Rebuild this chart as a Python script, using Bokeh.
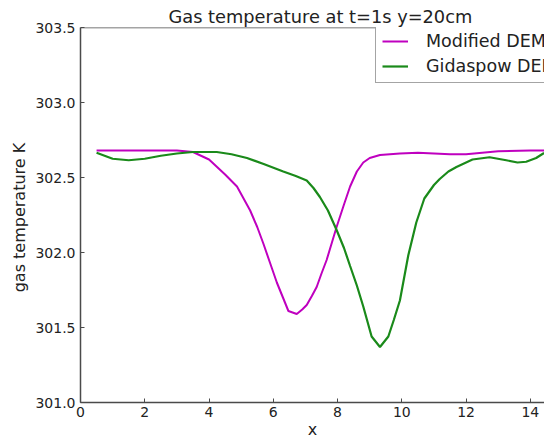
from bokeh.plotting import figure
from bokeh.models import Range1d, FixedTicker, PrintfTickFormatter, Legend, LegendItem, Span
from bokeh.embed import file_html
from bokeh.resources import INLINE

# ---- data ----
mod_x = [0.5, 1.0, 2.0, 3.0, 3.5, 4.0, 4.25, 4.5, 4.87, 5.28, 5.5, 5.69, 5.9, 6.11, 6.3,
         6.47, 6.73, 6.9, 7.04, 7.2, 7.35, 7.5, 7.66, 7.97, 8.2, 8.39, 8.6, 8.8, 9.0,
         9.32, 9.94, 10.5, 11.0, 11.5, 12.0, 12.5, 13.0, 14.0, 15.0]
mod_t = [302.68, 302.68, 302.68, 302.68, 302.67, 302.62, 302.57, 302.52, 302.44, 302.28,
         302.17, 302.06, 301.93, 301.80, 301.70, 301.61, 301.59, 301.62, 301.65, 301.71,
         301.77, 301.86, 301.95, 302.17, 302.32, 302.44, 302.54, 302.60, 302.63, 302.65,
         302.66, 302.665, 302.66, 302.655, 302.655, 302.665, 302.675, 302.68, 302.68]

gid_x = [0.5, 1.0, 1.5, 2.0, 2.5, 3.0, 3.5, 4.24, 4.7, 5.18, 5.7, 6.31, 6.7, 7.04, 7.25,
         7.45, 7.7, 7.97, 8.2, 8.39, 8.6, 8.8, 9.06, 9.32, 9.58, 9.75, 9.94, 10.2, 10.45,
         10.7, 11.0, 11.18, 11.45, 11.7, 12.2, 12.73, 13.25, 13.6, 13.87, 14.18, 14.4,
         14.7, 15.0, 15.5]
gid_t = [302.665, 302.625, 302.615, 302.625, 302.645, 302.66, 302.67, 302.67, 302.655,
         302.63, 302.59, 302.54, 302.51, 302.48, 302.43, 302.37, 302.28, 302.15, 302.03,
         301.91, 301.78, 301.64, 301.44, 301.37, 301.44, 301.55, 301.68, 301.98, 302.20,
         302.36, 302.45, 302.49, 302.54, 302.57, 302.62, 302.635, 302.615, 302.60, 302.605,
         302.63, 302.66, 302.68, 302.685, 302.685]

x_ticks = [0, 2, 4, 6, 8, 10, 12, 14]
y_ticks = [301.0, 301.5, 302.0, 302.5, 303.0, 303.5]
series_names = ["Modified DEM", "Gidaspow DEM"]
title_text = "Gas temperature at t=1s y=20cm"

FONT = "DejaVu Sans"
AX = "#4a4a4a"
TXT = "#222222"

p = figure(width=544, height=441, output_backend="svg", toolbar_location=None,
           x_range=Range1d(0, 14.44), y_range=Range1d(301.0, 303.5),
           min_border_left=80, min_border_right=0, min_border_top=27, min_border_bottom=0)
p.background_fill_color = "white"
p.border_fill_color = "white"
p.outline_line_color = None
p.grid.visible = False

p.title.text = title_text
p.title.align = "left"
p.title.offset = 88
p.title.text_font = FONT
p.title.text_font_size = "17.8px"
p.title.text_font_style = "normal"
p.title.text_color = TXT
p.title.standoff = 2

l1 = p.line(mod_x, mod_t, line_color="#bf00bf", line_width=2)
l2 = p.line(gid_x, gid_t, line_color="#1a8a1a", line_width=2.2)

for ax in (p.xaxis[0], p.yaxis[0]):
    ax.axis_line_color = AX
    ax.axis_line_width = 1.5
    ax.major_tick_line_color = AX
    ax.major_tick_in = 4
    ax.major_tick_out = 0
    ax.minor_tick_line_color = None
    ax.major_label_text_font = FONT
    ax.major_label_text_font_size = "14px"
    ax.major_label_text_color = TXT
    ax.axis_label_text_font = FONT
    ax.axis_label_text_font_size = "16px"
    ax.axis_label_text_font_style = "normal"
    ax.axis_label_text_color = TXT

p.xaxis[0].ticker = FixedTicker(ticks=x_ticks)
p.xaxis[0].formatter = PrintfTickFormatter(format="%d")
p.xaxis[0].axis_label = "x"
p.xaxis[0].major_label_standoff = 4
p.xaxis[0].axis_label_standoff = 0

p.yaxis[0].ticker = FixedTicker(ticks=y_ticks)
p.yaxis[0].formatter = PrintfTickFormatter(format="%.1f")
p.yaxis[0].axis_label = "gas temperature  K"
p.yaxis[0].major_label_standoff = 5
p.yaxis[0].axis_label_standoff = 3

# top spine
p.add_layout(Span(location=y_ticks[-1], dimension="width", line_color=AX, line_width=1.5))

legend = Legend(items=[LegendItem(label=series_names[0], renderers=[l1]),
                       LegendItem(label=series_names[1], renderers=[l2])],
                location=(295, 319), orientation="vertical")
legend.label_text_font = FONT
legend.label_text_font_size = "17.5px"
legend.label_text_color = TXT
legend.glyph_width = 26
legend.glyph_height = 20
legend.label_height = 20
legend.label_standoff = 18
legend.spacing = 5
legend.padding = 6
legend.margin = 0
legend.border_line_color = AX
legend.border_line_width = 1.2
legend.background_fill_alpha = 1.0
p.add_layout(legend, "center")

open("out.html", "w").write(file_html(p, INLINE))
